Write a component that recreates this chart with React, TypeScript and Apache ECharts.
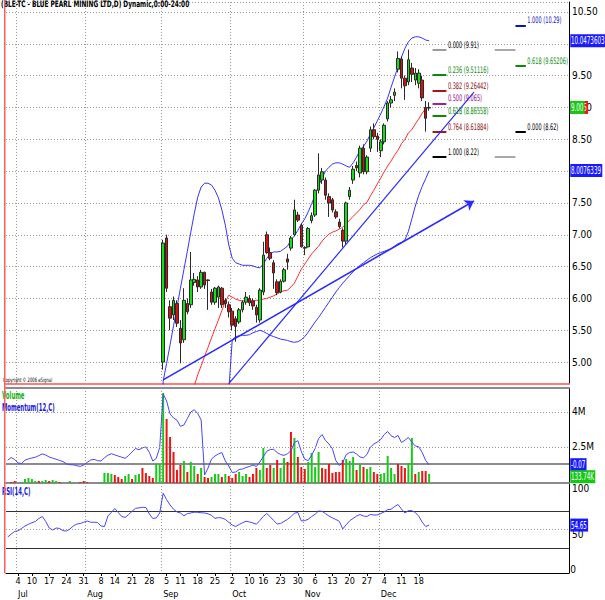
import React, { useEffect, useRef } from 'react';
import * as echarts from 'echarts';

const FONT = '"Liberation Sans Narrow", "DejaVu Sans Condensed", "Arial Narrow", "Liberation Sans", sans-serif';

const TITLE = '(BLE-TC - BLUE PEARL MINING LTD,D) Dynamic,0:00-24:00';
const COPYRIGHT = 'Copyright \u00a9 2006 eSignal';
const VOLUME_TITLE = 'Volume';
const MOMENTUM_TITLE = 'Momentum(12,C)';
const RSI_TITLE = 'RSI(14,C)';

// trading calendar (TSX-V sessions), categories of the x axis
const FIRST_SESSION = '2006-06-28';
const SESSION_COUNT = 163;
const MARKET_HOLIDAYS = ['2006-07-03', '2006-08-07', '2006-09-04', '2006-10-09', '2006-12-25', '2006-12-26', '2007-01-01'];
const FIRST_LABEL = '2006-07-04';
const LAST_LABEL = '2006-12-18';
const MONTH_NAMES = ['Jan', 'Feb', 'Mar', 'Apr', 'May', 'Jun', 'Jul', 'Aug', 'Sep', 'Oct', 'Nov', 'Dec'];

// daily candles, first one on session index 45 (Sep 1)
const CANDLE_START = 45;
const OPEN = [5.00, 6.95, 5.87, 5.74, 5.92, 5.53, 5.35, 5.92, 5.90, 6.25, 6.29, 6.18, 6.41, 6.29, 6.10, 5.94, 6.02, 6.16, 5.97, 5.90,
  5.80, 5.68, 5.63, 5.82, 5.94, 6.00, 5.96, 5.86, 5.66, 6.10, 7.00, 6.72, 6.56, 6.26, 6.10, 6.27, 6.62, 6.79, 7.00, 7.31,
  7.15, 6.80, 6.81, 7.22, 7.31, 7.70, 7.86, 7.86, 7.60, 7.55, 7.36, 7.20, 7.07, 6.90, 7.60, 7.86, 8.09, 7.97, 8.36, 7.99,
  8.36, 8.65, 8.55, 8.32, 8.46, 8.82, 9.07, 9.19, 9.60, 9.76, 9.46, 9.40, 9.62, 9.43, 9.38, 9.43, 9.00, 8.99];
const HIGH = [6.92, 7.00, 5.97, 6.03, 5.97, 5.66, 6.16, 6.00, 6.73, 6.40, 6.35, 6.45, 6.42, 6.30, 6.15, 6.18, 6.20, 6.18, 6.00, 5.95,
  5.85, 5.72, 5.85, 5.97, 6.10, 6.05, 6.00, 5.90, 6.16, 6.89, 7.05, 6.80, 6.60, 6.30, 6.30, 6.48, 6.70, 6.98, 7.55, 7.36,
  7.18, 6.82, 7.12, 7.35, 7.72, 8.28, 8.05, 7.90, 7.65, 7.58, 7.40, 7.25, 7.10, 7.52, 7.75, 8.08, 8.15, 8.40, 8.42, 8.25,
  8.70, 8.75, 8.60, 8.50, 8.75, 9.10, 9.18, 9.30, 9.88, 9.80, 9.50, 9.91, 9.70, 9.62, 9.60, 9.50, 9.10, 9.08];
const LOW = [4.88, 6.10, 5.50, 5.66, 5.55, 4.98, 5.30, 5.75, 5.85, 6.20, 6.10, 6.15, 6.15, 5.82, 5.90, 5.90, 5.85, 5.85, 5.85, 5.70,
  5.50, 5.32, 5.60, 5.78, 5.90, 5.88, 5.82, 5.62, 5.62, 6.05, 6.70, 6.60, 6.15, 6.05, 6.08, 6.25, 6.45, 6.75, 6.98, 7.20,
  6.80, 6.68, 6.80, 7.18, 7.28, 7.65, 7.80, 7.55, 7.28, 7.35, 7.25, 7.10, 6.80, 6.85, 7.55, 7.80, 8.00, 7.90, 7.95, 7.95,
  8.30, 8.50, 8.30, 8.22, 8.42, 8.78, 9.00, 9.10, 9.55, 9.30, 9.12, 9.35, 9.40, 9.35, 9.30, 9.10, 8.62, 8.95];
const CLOSE = [6.87, 6.16, 5.69, 5.97, 5.61, 5.30, 5.97, 5.79, 6.29, 6.30, 6.18, 6.41, 6.21, 6.28, 5.94, 6.16, 6.18, 5.90, 5.92, 5.79,
  5.58, 5.56, 5.82, 5.94, 6.02, 5.93, 5.88, 5.74, 6.13, 6.68, 6.72, 6.63, 6.40, 6.09, 6.27, 6.45, 6.57, 6.95, 7.39, 7.23,
  6.81, 6.79, 7.10, 7.30, 7.70, 7.94, 7.99, 7.62, 7.50, 7.39, 7.28, 7.13, 6.90, 7.50, 7.70, 8.03, 8.05, 8.36, 7.99, 8.22,
  8.65, 8.54, 8.50, 8.46, 8.72, 9.07, 9.12, 9.24, 9.77, 9.46, 9.34, 9.75, 9.52, 9.54, 9.54, 9.15, 8.83, 9.00];

// 20-day average (red) and Bollinger bands (blue)
const MA_START = 53;
const MA20 = [4.40, 4.62, 4.80, 4.94, 5.09, 5.23, 5.38, 5.52, 5.66, 5.81, 5.95, 6.05, 6.02, 5.99, 5.97, 5.96, 5.96, 5.96, 5.96, 5.97,
  5.97, 5.99, 6.00, 6.02, 6.04, 6.07, 6.10, 6.12, 6.13, 6.18, 6.24, 6.35, 6.46, 6.54, 6.62, 6.70, 6.76, 6.82, 6.90, 6.96,
  7.01, 7.04, 7.06, 7.09, 7.12, 7.17, 7.23, 7.29, 7.34, 7.40, 7.47, 7.51, 7.61, 7.70, 7.80, 7.89, 7.99, 8.08, 8.16, 8.25,
  8.33, 8.43, 8.50, 8.60, 8.65, 8.74, 8.82, 8.91, 8.98, 9.01];
const UPPER_START = 44;
const UPPER_BAND = [3.50, 4.70, 4.98, 5.27, 5.57, 5.86, 6.16, 6.45, 6.74, 7.04, 7.33, 7.59, 7.75, 7.81, 7.81, 7.78, 7.70, 7.58, 7.39, 7.15,
  6.84, 6.63, 6.56, 6.54, 6.52, 6.52, 6.52, 6.51, 6.49, 6.48, 6.54, 6.63, 6.70, 6.73, 6.73, 6.74, 6.78, 6.82, 6.92, 6.98,
  7.07, 7.17, 7.25, 7.36, 7.49, 7.62, 7.77, 7.89, 8.00, 8.06, 8.11, 8.13, 8.13, 8.11, 8.08, 8.06, 8.13, 8.22, 8.33, 8.39,
  8.47, 8.58, 8.68, 8.79, 8.90, 9.02, 9.15, 9.32, 9.48, 9.64, 9.79, 9.93, 10.03, 10.09, 10.11, 10.11, 10.09, 10.06, 10.0473603];
const LOWER_START = 64;
const LOWER_BAND = [4.55, 5.35, 5.40, 5.41, 5.42, 5.42, 5.43, 5.46, 5.48, 5.50, 5.48, 5.45, 5.42, 5.40, 5.38, 5.36, 5.35, 5.34, 5.32, 5.31,
  5.32, 5.35, 5.40, 5.47, 5.55, 5.63, 5.70, 5.78, 5.86, 5.94, 6.02, 6.10, 6.17, 6.24, 6.30, 6.36, 6.42, 6.47, 6.52, 6.56,
  6.60, 6.64, 6.67, 6.70, 6.72, 6.74, 6.76, 6.78, 6.82, 6.86, 6.88, 6.92, 7.05, 7.25, 7.45, 7.62, 7.76, 7.88, 8.0076339];

// volume in thousands of shares, 1 = up day (green), 0 = down day (red)
const VOLUME_K = [900, 993, 1036, 900, 993, 1122, 1165, 1122, 1036, 1036, 1036, 1079, 1036, 1079, 1036, 993, 900, 900, 1036, 900,
  900, 993, 1036, 993, 900, 900, 900, 993, 1380, 1380, 1337, 1294, 1208, 1122, 1251, 1337, 1122, 1294, 1337, 1594,
  1380, 1251, 1165, 1766, 1766, 4816, 3699, 2926, 2282, 1508, 1723, 1895, 1423, 1852, 1680, 1337, 1594, 1208, 1165, 1208,
  1337, 1337, 1208, 1337, 1251, 1165, 1337, 1423, 1251, 1337, 1208, 1337, 1594, 1508, 2454, 1594, 1723, 1594, 1938, 1594,
  2024, 1852, 3141, 2883, 2067, 1637, 1551, 1852, 2239, 1637, 2282, 1594, 1551, 1766, 1380, 1423, 1423, 1938, 1981, 1895,
  2067, 1508, 1766, 1637, 1551, 1637, 1423, 1337, 1337, 1380, 2110, 1594, 1337, 1766, 1680, 1594, 1809, 2883, 1337, 1423,
  1466, 1466, 1337];
const VOLUME_UP = [1, 0, 0, 1, 1, 1, 1, 1, 1, 0, 1, 1, 0, 1, 1, 0, 1, 1, 1, 1,
  1, 0, 0, 0, 1, 1, 1, 1, 1, 1, 1, 0, 0, 0, 1, 1, 0, 1, 1, 0,
  0, 0, 0, 1, 1, 1, 0, 0, 0, 0, 0, 1, 0, 1, 1, 0, 1, 0, 0, 1,
  1, 1, 0, 1, 0, 0, 0, 1, 1, 1, 0, 0, 0, 1, 1, 0, 0, 1, 0, 1,
  1, 0, 0, 1, 0, 0, 0, 1, 1, 1, 1, 0, 0, 0, 0, 0, 0, 0, 1, 1,
  1, 0, 1, 0, 1, 1, 0, 0, 1, 1, 1, 1, 1, 0, 0, 0, 1, 1, 0, 1,
  0, 0, 1];

const MOMENTUM = [0.37, 0.65, 0.45, 0.10, 0.05, 0.39, 0.51, 0.60, 0.68, 0.84, 1.01, 0.90, 0.70, 0.59, 0.48, 0.36, 0.24, 0.02, -0.07, -0.08,
  -0.17, -0.24, -0.10, 0.16, 0.40, 0.46, 0.34, 0.30, 0.62, 0.88, 1.03, 0.91, 0.79, 0.68, 0.57, 0.85, 1.20, 1.55, 1.43, 1.61,
  1.71, 1.17, 0.30, 0.55, 1.65, 7.00, 6.30, 5.00, 4.60, 4.38, 3.77, 3.90, 4.55, 5.20, 5.43, 5.05, 4.40, -1.10, -0.40, 0.50,
  0.80, 1.00, 1.15, 0.30, -0.20, -0.85, -0.80, -0.55, -0.50, -0.35, -0.25, -0.10, -0.25, 0.20, 0.73, 1.28, 1.45, 1.47, 1.15, 0.95,
  0.86, 1.03, 1.32, 2.15, 2.33, 1.25, 0.47, 0.34, 0.90, 1.55, 2.53, 2.95, 2.34, 2.00, 1.52, 0.35, -0.15, 0.15, 0.95, 1.15,
  1.20, 1.00, 0.70, 0.62, 0.95, 1.70, 2.00, 2.20, 2.45, 2.95, 3.25, 2.82, 2.65, 2.85, 2.15, 2.38, 2.65, 2.20, 1.80, 1.72,
  1.15, 0.35, -0.07];

const RSI = [41.8, 45.0, 47.7, 48.5, 51.0, 53.7, 55.5, 57.2, 58.5, 61.7, 63.9, 58.5, 51.5, 49.4, 51.5, 51.0, 48.6, 48.3, 50.4, 53.7,
  55.8, 56.3, 57.8, 59.0, 57.7, 57.7, 57.5, 53.7, 53.0, 64.4, 68.3, 72.5, 68.2, 63.9, 62.9, 66.0, 69.5, 72.7, 73.2, 73.8,
  73.6, 66.6, 61.7, 62.3, 67.7, 89.0, 82.0, 76.3, 71.8, 68.8, 67.7, 64.7, 67.0, 67.7, 68.5, 68.4, 67.9, 67.7, 66.8, 65.1,
  61.9, 62.7, 62.3, 60.8, 57.5, 54.7, 53.1, 55.3, 57.2, 58.8, 58.0, 56.9, 55.6, 59.6, 63.9, 67.1, 63.6, 59.5, 55.8, 56.4,
  58.6, 60.8, 63.7, 67.5, 68.2, 59.0, 59.5, 60.9, 63.9, 66.3, 69.8, 69.5, 67.0, 64.4, 62.4, 60.7, 58.7, 50.5, 55.0, 59.3,
  61.8, 64.4, 66.0, 64.4, 63.9, 66.2, 65.5, 65.5, 67.1, 68.8, 71.3, 71.7, 74.7, 76.8, 72.0, 67.7, 70.2, 70.2, 68.2, 64.2,
  57.8, 53.1, 54.65];
const RSI_BANDS = [70, 30];

// drawing tools: trend lines [session index, price]
const TREND_ARROW = [[45, 4.72], [135, 7.53]];
const TREND_STEEP = [[64, 4.66], [135, 9.24]];

// Fibonacci tools
const RETRACE_SPAN = [123, 127];
const RETRACE_GHOST_SPAN = [141, 147];
const PROJECT_SPAN = [147, 150];
const FIB_RETRACE = [
  { text: '0.000 (9.91)', value: 9.91, line: '#9a9a9a', color: '#000000' },
  { text: '0.236 (9.51116)', value: 9.51116, line: '#0a8a0a', color: '#0a8a0a' },
  { text: '0.382 (9.26442)', value: 9.26442, line: '#a01818', color: '#8a1010' },
  { text: '0.500 (9.065)', value: 9.065, line: '#a020a0', color: '#8a108a' },
  { text: '0.618 (8.86558)', value: 8.86558, line: '#0a8a0a', color: '#0a8a0a' },
  { text: '0.764 (8.61884)', value: 8.61884, line: '#a01818', color: '#8a1010' },
  { text: '1.000 (8.22)', value: 8.22, line: '#000000', color: '#000000' },
];
const FIB_GHOST = [9.91, 8.22];
const FIB_PROJECT = [
  { text: '1.000 (10.29)', value: 10.29, line: '#1010c0', color: '#1010c0' },
  { text: '0.618 (9.65206)', value: 9.65206, line: '#0a8a0a', color: '#0a8a0a' },
  { text: '0.000 (8.62)', value: 8.62, line: '#000000', color: '#000000' },
];

// right-axis readouts: [axis index, value, text, box colour]
const READOUTS: [number, number, string, string][] = [
  [0, 10.0473603, '10.0473603', '#1a1aff'],
  [0, 9.0, '9.015', '#ee1a1a'],
  [0, 9.0, '9.00', '#16c816'],
  [0, 8.0076339, '8.0076339', '#1a1aff'],
  [2, -0.07, '-0.07', '#1a1aff'],
  [1, 1220, '133.74K', '#16c816'],
  [3, 54.65, '54.65', '#1a1aff'],
];

const PRICE_MIN = 4.655;
const PRICE_MAX = 10.657;
const VOL_MIN = 950;
const VOL_MAX = 5030;
const MOM_MIN = -1.9;
const MOM_MAX = 7.6;
const RSI_MIN = 3;
const RSI_MAX = 100;

function buildSessions(): string[] {
  const out: string[] = [];
  const d = new Date(FIRST_SESSION + 'T00:00:00Z');
  while (out.length < SESSION_COUNT) {
    const iso = d.toISOString().slice(0, 10);
    const wd = d.getUTCDay();
    if (wd !== 0 && wd !== 6 && MARKET_HOLIDAYS.indexOf(iso) < 0) out.push(iso);
    d.setUTCDate(d.getUTCDate() + 1);
  }
  return out;
}

export default function App() {
  const ref = useRef<HTMLDivElement>(null);

  useEffect(() => {
    if (!ref.current) return;
    const chart = echarts.init(ref.current, undefined, { renderer: 'svg' });
    const dates = buildSessions();
    const toDate = (s: string) => new Date(s + 'T00:00:00Z');
    const inRange = (k: number) => dates[k] >= FIRST_LABEL && dates[k] <= LAST_LABEL;
    const weekStart = (k: number) => {
      if (k === 0) return true;
      const a = toDate(dates[k - 1]);
      const b = toDate(dates[k]);
      return b.getUTCDay() <= a.getUTCDay() || b.getTime() - a.getTime() >= 7 * 864e5;
    };
    const monthStart = (k: number) => k > 0 && dates[k].slice(5, 7) !== dates[k - 1].slice(5, 7);
    const showDay = (k: number) => inRange(k) && weekStart(k);
    const showMonth = (k: number) => inRange(k) && monthStart(k);

    const pad = (start: number, values: number[]) =>
      dates.map((_, k) => (k >= start && k < start + values.length ? values[k - start] : '-'));

    const candles = dates.map((_, k) => {
      const j = k - CANDLE_START;
      if (j < 0 || j >= OPEN.length) return ['-', '-', '-', '-'];
      return [OPEN[j], CLOSE[j], LOW[j], HIGH[j]];
    });
    const volume = dates.map((_, k) =>
      k < VOLUME_K.length
        ? { value: VOLUME_K[k], itemStyle: { color: VOLUME_UP[k] ? '#19c919' : '#ec1515' } }
        : '-'
    );

    const gridLine = { color: '#9a9a9a', width: 1, type: [1, 2] as any };
    const cat = (gridIndex: number) => ({
      type: 'category',
      gridIndex,
      data: dates,
      boundaryGap: true,
      axisLine: { show: false, onZero: false },
      axisTick: { show: false },
      axisLabel: { show: false },
      splitLine: { show: true, interval: (k: number) => showMonth(k), lineStyle: gridLine },
    });

    const segment = (span: number[], value: number, line: string) => [
      { coord: [span[0], value], lineStyle: { color: line, width: 2, type: 'solid' }, label: { show: false } },
      { coord: [span[1], value] },
    ];

    const priceMarks: any[] = [];
    FIB_RETRACE.forEach((f) => priceMarks.push(segment(RETRACE_SPAN, f.value, f.line)));
    FIB_GHOST.forEach((v) => priceMarks.push(segment(RETRACE_GHOST_SPAN, v, '#a8a8a8')));
    FIB_PROJECT.forEach((f) => priceMarks.push(segment(PROJECT_SPAN, f.value, f.line)));
    priceMarks.push([
      { coord: TREND_ARROW[0], symbol: 'none', lineStyle: { color: '#2b2bff', width: 1.6, type: 'solid' }, label: { show: false } },
      { coord: TREND_ARROW[1], symbol: 'arrow', symbolSize: 9 },
    ]);
    priceMarks.push([
      { coord: TREND_STEEP[0], symbol: 'none', lineStyle: { color: '#2b2bff', width: 1.2, type: 'solid' }, label: { show: false } },
      { coord: TREND_STEEP[1], symbol: 'none' },
    ]);

    const axisFont = { fontSize: 10, color: '#000', margin: 3, fontFamily: FONT };

    const option: any = {
      animation: false,
      backgroundColor: '#ffffff',
      textStyle: { fontFamily: FONT },
      grid: [
        { left: 6, right: 36, top: 2, height: 382 },
        { left: 6, right: 36, top: 388, height: 95 },
        { left: 6, right: 36, top: 483, height: 90 },
      ],
      xAxis: [
        { ...cat(0), axisLine: { show: true, onZero: false, lineStyle: { color: '#ff7a7a', width: 2 } } },
        { ...cat(1), position: 'top', axisLine: { show: true, onZero: false, lineStyle: { color: '#8c8c8c', width: 2 } } },
        {
          ...cat(2),
          position: 'bottom',
          axisLine: { show: true, onZero: false, lineStyle: { color: '#000000', width: 1 } },
          axisTick: { show: true, interval: (k: number) => showDay(k), alignWithLabel: true, length: 3, lineStyle: { color: '#000' } },
          axisLabel: {
            show: true,
            interval: (k: number) => showDay(k),
            formatter: (v: string) => String(Number(v.slice(8, 10))),
            fontSize: 9,
            color: '#000',
            margin: 3,
            fontFamily: FONT,
          },
        },
        {
          ...cat(2),
          position: 'bottom',
          offset: 13,
          splitLine: { show: false },
          axisLabel: {
            show: true,
            interval: (k: number) => showMonth(k),
            formatter: (v: string) => MONTH_NAMES[Number(v.slice(5, 7)) - 1],
            align: 'left',
            fontSize: 9,
            color: '#000',
            margin: 3,
            fontFamily: FONT,
          },
        },
        {
          ...cat(2),
          position: 'top',
          splitLine: { show: false },
          axisLine: { show: true, onZero: false, lineStyle: { color: '#8c8c8c', width: 2 } },
        },
      ],
      yAxis: [
        {
          type: 'value',
          gridIndex: 0,
          position: 'right',
          min: PRICE_MIN,
          max: PRICE_MAX,
          splitNumber: 12,
          axisLine: { show: true, lineStyle: { color: '#000' } },
          axisTick: { show: false },
          axisLabel: { ...axisFont, formatter: (v: number) => v.toFixed(2), showMinLabel: false, showMaxLabel: false },
          splitLine: { show: true, lineStyle: gridLine },
        },
        {
          type: 'value',
          gridIndex: 1,
          position: 'right',
          min: VOL_MIN,
          max: VOL_MAX,
          splitNumber: 8,
          axisLine: { show: true, lineStyle: { color: '#000' } },
          axisTick: { show: false },
          axisLabel: {
            ...axisFont,
            formatter: (v: number) => (Math.abs(v - 4000) < 1 ? '4M' : Math.abs(v - 2500) < 1 ? '2.5M' : ''),
            showMinLabel: false,
            showMaxLabel: false,
          },
          splitLine: { show: false },
        },
        { type: 'value', gridIndex: 1, position: 'left', min: MOM_MIN, max: MOM_MAX, show: false, splitLine: { show: false } },
        {
          type: 'value',
          gridIndex: 2,
          position: 'right',
          min: RSI_MIN,
          max: RSI_MAX,
          splitNumber: 10,
          axisLine: { show: true, lineStyle: { color: '#000' } },
          axisTick: { show: false },
          axisLabel: {
            ...axisFont,
            formatter: (v: number) => (Math.abs(v - 100) < 0.01 ? '100' : Math.abs(v - 50) < 0.01 ? '50' : ''),
            showMinLabel: false,
            verticalAlign: 'top',
          },
          splitLine: { show: false },
        },
      ],
      series: [
        {
          name: 'MA',
          type: 'line',
          xAxisIndex: 0,
          yAxisIndex: 0,
          data: pad(MA_START, MA20),
          symbol: 'none',
          lineStyle: { color: '#ff2e2e', width: 1 },
          z: 2,
        },
        {
          name: 'Upper',
          type: 'line',
          xAxisIndex: 0,
          yAxisIndex: 0,
          data: pad(UPPER_START, UPPER_BAND),
          symbol: 'none',
          lineStyle: { color: '#3434ff', width: 1 },
          z: 2,
        },
        {
          name: 'Lower',
          type: 'line',
          xAxisIndex: 0,
          yAxisIndex: 0,
          data: pad(LOWER_START, LOWER_BAND),
          symbol: 'none',
          lineStyle: { color: '#3434ff', width: 1 },
          z: 2,
        },
        {
          name: 'Price',
          type: 'candlestick',
          xAxisIndex: 0,
          yAxisIndex: 0,
          data: candles,
          barWidth: 3,
          z: 3,
          itemStyle: {
            color: '#14e014',
            color0: '#d81010',
            borderColor: '#2a2a2a',
            borderColor0: '#2a2a2a',
            borderWidth: 1,
          },
          markLine: { silent: true, symbol: ['none', 'none'], z: 6, data: priceMarks },
        },
        {
          name: 'Volume',
          type: 'bar',
          xAxisIndex: 1,
          yAxisIndex: 1,
          data: volume,
          barWidth: 2,
          z: 2,
          markLine: {
            silent: true,
            symbol: ['none', 'none'],
            z: 5,
            data: [
              { yAxis: 4000, lineStyle: { color: '#9a9a9a', width: 1, type: [1, 2] }, label: { show: false } },
              { yAxis: 2500, lineStyle: { color: '#9a9a9a', width: 1, type: [1, 2] }, label: { show: false } },
            ],
          },
        },
        {
          name: 'Momentum',
          type: 'line',
          xAxisIndex: 1,
          yAxisIndex: 2,
          data: MOMENTUM,
          symbol: 'none',
          lineStyle: { color: '#4646ff', width: 1 },
          z: 3,
          markLine: {
            silent: true,
            symbol: ['none', 'none'],
            z: 2,
            data: [{ yAxis: 0, lineStyle: { color: '#8c8c8c', width: 2, type: 'solid' }, label: { show: false } }],
          },
        },
        {
          name: 'RSI',
          type: 'line',
          xAxisIndex: 2,
          yAxisIndex: 3,
          data: RSI,
          symbol: 'none',
          lineStyle: { color: '#4646ff', width: 1 },
          z: 3,
          markLine: {
            silent: true,
            symbol: ['none', 'none'],
            z: 2,
            data: [
              ...RSI_BANDS.map((b) => ({ yAxis: b, lineStyle: { color: '#333333', width: 1, type: 'solid' }, label: { show: false } })),
              { yAxis: 50, lineStyle: { color: '#9a9a9a', width: 1, type: [1, 2] }, label: { show: false } },
            ],
          },
        },
      ],
    };

    chart.setOption(option);

    // texts placed through the chart's own scales
    const rightEdge = chart.convertToPixel({ xAxisIndex: 0 }, SESSION_COUNT - 1) as number;
    const boxX = rightEdge + 3;
    const fibTexts: any[] = [];
    const addFib = (list: { text: string; value: number; color: string }[], span: number[]) => {
      list.forEach((f) => {
        const p = chart.convertToPixel({ gridIndex: 0 }, [span[1], f.value]) as number[];
        fibTexts.push({
          type: 'text',
          x: p[0] + 1.5,
          y: p[1] - 0.5,
          z: 50,
          scaleX: 0.62,
          style: { text: f.text, fontSize: 9, fontFamily: FONT, fill: f.color, verticalAlign: 'bottom' },
        });
      });
    };
    addFib(FIB_RETRACE, RETRACE_SPAN);
    addFib(FIB_PROJECT, PROJECT_SPAN);

    const readoutTexts = READOUTS.map(([axis, value, text, bg]) => ({
      type: 'text',
      x: boxX,
      y: chart.convertToPixel({ yAxisIndex: axis }, value) as number,
      z: 60,
      scaleX: 0.62,
      style: {
        text,
        fontSize: 10,
        fontFamily: FONT,
        fill: '#ffffff',
        backgroundColor: bg,
        padding: [2, 2, 1, 1],
        verticalAlign: 'middle',
      },
    }));

    const panelTitle = (text: string, y: number, fill: string) => ({
      type: 'text',
      x: 2,
      y,
      z: 99,
      scaleX: 0.6,
      style: { text, fontSize: 10, fontWeight: 'bold', fontFamily: FONT, fill, verticalAlign: 'top' },
    });

    chart.setOption({
      graphic: [
        { type: 'rect', shape: { x: 4, y: 0, width: 1.5, height: 573 }, style: { fill: '#ff5c5c' }, z: 100, silent: true },
        {
          type: 'text',
          x: 1,
          y: 0,
          z: 99,
          scaleX: 0.72,
          style: { text: TITLE, fontSize: 9, fontWeight: 'bold', fontFamily: FONT, fill: '#000', verticalAlign: 'top' },
        },
        {
          type: 'text',
          x: 3,
          y: 377,
          z: 99,
          scaleX: 0.7,
          style: { text: COPYRIGHT, fontSize: 6, fontFamily: FONT, fill: '#000', verticalAlign: 'top' },
        },
        panelTitle(VOLUME_TITLE, 390, '#10b010'),
        panelTitle(MOMENTUM_TITLE, 402, '#1818e0'),
        panelTitle(RSI_TITLE, 486, '#1818e0'),
        { type: 'text', x: boxX, y: 564, z: 99, style: { text: '0', fontSize: 10, fontFamily: FONT, fill: '#000', verticalAlign: 'top' } },
        ...fibTexts,
        ...readoutTexts,
      ],
    });

    return () => chart.dispose();
  }, []);

  return (
    <div
      ref={ref}
      style={{ position: 'fixed', left: 0, top: 0, width: 605, height: 600, background: '#ffffff' }}
    />
  );
}
